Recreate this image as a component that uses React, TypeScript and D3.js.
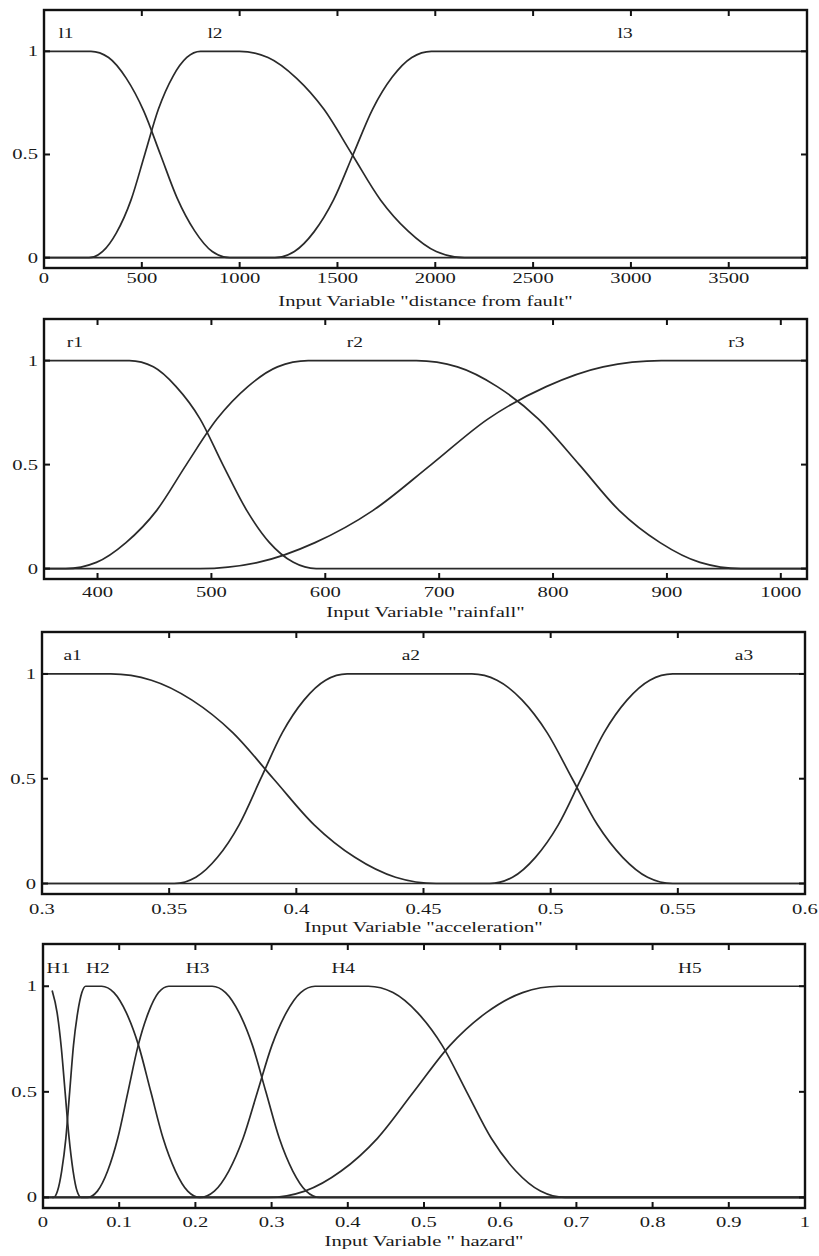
import React from "react";
import * as d3 from "d3";

type Pt = [number, number];

// ---------- Panel 1: distance from fault ----------
const DIST_TICKS = [0, 500, 1000, 1500, 2000, 2500, 3000, 3500];
const DIST_NAMES = ["l1", "l2", "l3"];
const DIST_NAME_X = [112, 874, 2970];
const DIST_L1: Pt[] = [[0, 1], [240, 1], [330, 0.97], [420, 0.87], [510, 0.71], [595, 0.5], [680, 0.29], [770, 0.13], [860, 0.03], [950, 0], [3900, 0]];
const DIST_L2: Pt[] = [[0, 0], [230, 0], [300, 0.03], [370, 0.12], [445, 0.28], [515, 0.5], [585, 0.72], [660, 0.88], [730, 0.97], [800, 1], [1000, 1], [1145, 0.97], [1290, 0.87], [1430, 0.72], [1575, 0.5], [1720, 0.28], [1860, 0.13], [2005, 0.03], [2150, 0], [3900, 0]];
const DIST_L3: Pt[] = [[0, 0], [1180, 0], [1280, 0.03], [1380, 0.125], [1480, 0.28], [1580, 0.5], [1680, 0.72], [1780, 0.875], [1880, 0.97], [1980, 1], [3900, 1]];

// ---------- Panel 2: rainfall ----------
const RAIN_TICKS = [400, 500, 600, 700, 800, 900, 1000];
const RAIN_NAMES = ["r1", "r2", "r3"];
const RAIN_NAME_X = [380, 626, 961];
const RAIN_R1: Pt[] = [[353, 1], [428, 1], [449, 0.97], [469, 0.875], [490, 0.72], [510, 0.5], [531, 0.28], [551, 0.125], [572, 0.03], [592, 0], [1023, 0]];
const RAIN_R2: Pt[] = [[353, 0], [372, 0], [399, 0.03], [425, 0.125], [452, 0.28], [478, 0.5], [505, 0.72], [532, 0.875], [558, 0.97], [585, 1], [680, 1], [716, 0.97], [751, 0.875], [787, 0.72], [823, 0.5], [858, 0.28], [894, 0.125], [929, 0.03], [965, 0], [1023, 0]];
const RAIN_R3: Pt[] = [[353, 0], [490, 0], [541, 0.03], [591, 0.125], [642, 0.28], [693, 0.5], [743, 0.72], [794, 0.875], [844, 0.97], [895, 1], [1023, 1]];

// ---------- Panel 3: acceleration ----------
const ACC_TICKS = [0.3, 0.35, 0.4, 0.45, 0.5, 0.55, 0.6];
const ACC_NAMES = ["a1", "a2", "a3"];
const ACC_NAME_X = [0.312, 0.445, 0.576];
const ACC_A1: Pt[] = [[0.3, 1], [0.327, 1], [0.343, 0.97], [0.359, 0.875], [0.375, 0.72], [0.391, 0.5], [0.407, 0.28], [0.423, 0.125], [0.439, 0.03], [0.455, 0], [0.6, 0]];
const ACC_A2: Pt[] = [[0.3, 0], [0.352, 0], [0.3605, 0.03], [0.369, 0.125], [0.3775, 0.28], [0.386, 0.5], [0.3945, 0.72], [0.403, 0.875], [0.4115, 0.97], [0.42, 1], [0.469, 1], [0.4789, 0.97], [0.4888, 0.875], [0.4986, 0.72], [0.5085, 0.5], [0.5184, 0.28], [0.5283, 0.125], [0.5381, 0.03], [0.548, 0], [0.6, 0]];
const ACC_A3: Pt[] = [[0.3, 0], [0.476, 0], [0.485, 0.03], [0.494, 0.125], [0.503, 0.28], [0.512, 0.5], [0.521, 0.72], [0.53, 0.875], [0.539, 0.97], [0.548, 1], [0.6, 1]];

// ---------- Panel 4: hazard ----------
const HAZ_TICKS = [0, 0.1, 0.2, 0.3, 0.4, 0.5, 0.6, 0.7, 0.8, 0.9, 1];
const HAZ_NAMES = ["H1", "H2", "H3", "H4", "H5"];
const HAZ_NAME_X = [0.02, 0.072, 0.203, 0.394, 0.849];
const HAZ_H1: Pt[] = [[0.012, 0.98], [0.0185, 0.875], [0.024, 0.71], [0.029, 0.5], [0.034, 0.29], [0.0395, 0.125], [0.0447, 0.03], [0.05, 0], [1, 0]];
const HAZ_H2: Pt[] = [[0.012, 0], [0.014, 0], [0.019, 0.03], [0.0245, 0.125], [0.03, 0.28], [0.035, 0.5], [0.04, 0.72], [0.0455, 0.875], [0.051, 0.97], [0.056, 1], [0.077, 1], [0.0931, 0.97], [0.1093, 0.875], [0.1254, 0.72], [0.1415, 0.5], [0.1576, 0.28], [0.1738, 0.125], [0.1899, 0.03], [0.206, 0], [1, 0]];
const HAZ_H3: Pt[] = [[0, 0], [0.058, 0], [0.0714, 0.03], [0.0848, 0.125], [0.0981, 0.28], [0.1115, 0.5], [0.1249, 0.72], [0.1383, 0.875], [0.1516, 0.97], [0.165, 1], [0.222, 1], [0.2396, 0.97], [0.2573, 0.875], [0.2749, 0.72], [0.2925, 0.5], [0.3101, 0.28], [0.3278, 0.125], [0.3454, 0.03], [0.363, 0], [1, 0]];
const HAZ_H4: Pt[] = [[0, 0], [0.206, 0], [0.2249, 0.03], [0.2438, 0.125], [0.2626, 0.28], [0.2815, 0.5], [0.3004, 0.72], [0.3193, 0.875], [0.3381, 0.97], [0.357, 1], [0.427, 1], [0.4593, 0.97], [0.4915, 0.875], [0.5238, 0.72], [0.556, 0.5], [0.5883, 0.28], [0.6205, 0.125], [0.6528, 0.03], [0.685, 0], [1, 0]];
const HAZ_H5: Pt[] = [[0, 0], [0.296, 0], [0.3436, 0.03], [0.3913, 0.125], [0.4389, 0.28], [0.4865, 0.5], [0.5341, 0.72], [0.5818, 0.875], [0.6294, 0.97], [0.677, 1], [1, 1]];

const Y_TICKS = [0, 0.5, 1];
const Y_TICK_LABELS = ["0", "0.5", "1"];
const Y_DOMAIN: [number, number] = [-0.05, 1.2];

const FONT = "'Liberation Serif', 'Times New Roman', serif";
const SX = 1.33;

interface PanelCfg {
  box: { x0: number; x1: number; y0: number; y1: number };
  xDomain: [number, number];
  ticks: number[];
  tickFmt: (v: number) => string;
  curves: Pt[][];
  names: string[];
  nameX: number[];
  title: string;
  tickDy: number;
}

const PANELS: PanelCfg[] = [
  {
    box: { x0: 44, x1: 807, y0: 10, y1: 268 },
    xDomain: [0, 3900],
    ticks: DIST_TICKS,
    tickFmt: (v) => String(v),
    curves: [DIST_L1, DIST_L2, DIST_L3],
    names: DIST_NAMES,
    nameX: DIST_NAME_X,
    title: 'Input Variable "distance from fault"',
    tickDy: 15,
  },
  {
    box: { x0: 44, x1: 807, y0: 319, y1: 579 },
    xDomain: [353, 1023],
    ticks: RAIN_TICKS,
    tickFmt: (v) => String(v),
    curves: [RAIN_R1, RAIN_R2, RAIN_R3],
    names: RAIN_NAMES,
    nameX: RAIN_NAME_X,
    title: 'Input Variable "rainfall"',
    tickDy: 18,
  },
  {
    box: { x0: 42, x1: 805, y0: 632, y1: 894 },
    xDomain: [0.3, 0.6],
    ticks: ACC_TICKS,
    tickFmt: (v) => String(+v.toFixed(2)),
    curves: [ACC_A1, ACC_A2, ACC_A3],
    names: ACC_NAMES,
    nameX: ACC_NAME_X,
    title: 'Input Variable "acceleration"',
    tickDy: 20,
  },
  {
    box: { x0: 43, x1: 805, y0: 944, y1: 1208 },
    xDomain: [0, 1],
    ticks: HAZ_TICKS,
    tickFmt: (v) => String(+v.toFixed(1)),
    curves: [HAZ_H1, HAZ_H2, HAZ_H3, HAZ_H4, HAZ_H5],
    names: HAZ_NAMES,
    nameX: HAZ_NAME_X,
    title: 'Input Variable " hazard"',
    tickDy: 19,
  },
];

function Panel({ cfg }: { cfg: PanelCfg }) {
  const { box } = cfg;
  const x = d3.scaleLinear().domain(cfg.xDomain).range([box.x0, box.x1]);
  const y = d3.scaleLinear().domain(Y_DOMAIN).range([box.y1, box.y0]);
  const line = d3
    .line<Pt>()
    .x((d) => x(d[0]))
    .y((d) => y(d[1]))
    .curve(d3.curveMonotoneX);
  const tl = 6;
  const txt = (tx: number, ty: number, s: string, anchor: string, key: string, sx = SX) => (
    <text
      key={key}
      transform={`translate(${tx},${ty}) scale(${sx},1)`}
      textAnchor={anchor}
      fontFamily={FONT}
      fontSize={15.5}
      fill="#1a1a1a"
    >
      {s}
    </text>
  );
  return (
    <g>
      {cfg.curves.map((c, i) => (
        <path key={"c" + i} d={line(c) || ""} fill="none" stroke="#2a2a2a" strokeWidth={1.7} />
      ))}
      <rect
        x={box.x0}
        y={box.y0}
        width={box.x1 - box.x0}
        height={box.y1 - box.y0}
        fill="none"
        stroke="#111"
        strokeWidth={2.4}
      />
      {cfg.ticks.map((t, i) => (
        <g key={"xt" + i}>
          <line x1={x(t)} x2={x(t)} y1={box.y1} y2={box.y1 - tl} stroke="#111" strokeWidth={2} />
          <line x1={x(t)} x2={x(t)} y1={box.y0} y2={box.y0 + tl} stroke="#111" strokeWidth={2} />
          {txt(x(t), box.y1 + cfg.tickDy, cfg.tickFmt(t), "middle", "xl" + i)}
        </g>
      ))}
      {Y_TICKS.map((t, i) => (
        <g key={"yt" + i}>
          <line x1={box.x0} x2={box.x0 + tl} y1={y(t)} y2={y(t)} stroke="#111" strokeWidth={2} />
          <line x1={box.x1} x2={box.x1 - tl} y1={y(t)} y2={y(t)} stroke="#111" strokeWidth={2} />
          {txt(box.x0 - 6, y(t) + 5, Y_TICK_LABELS[i], "end", "yl" + i)}
        </g>
      ))}
      {cfg.names.map((n, i) => txt(x(cfg.nameX[i]), y(1.065), n, "middle", "n" + i, 1.25))}
      {txt((box.x0 + box.x1) / 2, box.y1 + 38, cfg.title, "middle", "title")}
    </g>
  );
}

export default function App() {
  return (
    <svg
      width={819}
      height={1256}
      viewBox="0 0 819 1256"
      style={{ position: "absolute", left: 0, top: 0, background: "#fff" }}
    >
      <rect x={0} y={0} width={819} height={1256} fill="#fff" />
      {PANELS.map((p, i) => (
        <Panel key={i} cfg={p} />
      ))}
    </svg>
  );
}
